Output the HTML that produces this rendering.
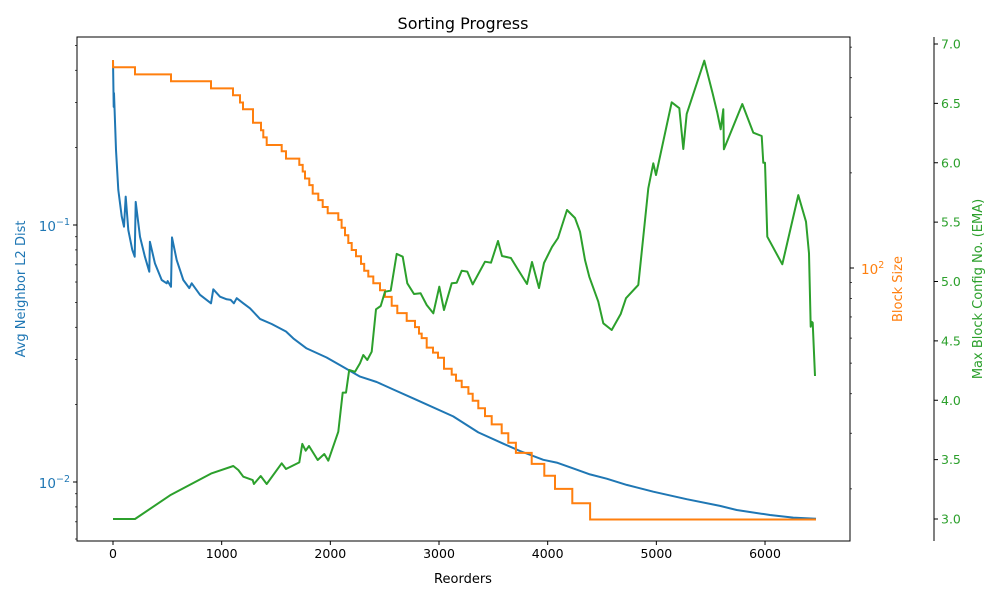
<!DOCTYPE html>
<html><head><meta charset="utf-8"><style>
body{margin:0;background:#fff}
svg{display:block;font-family:"DejaVu Sans","Liberation Sans",sans-serif}
</style></head><body>
<svg id="chart" width="1000" height="600" viewBox="0 0 1000 600" xmlns="http://www.w3.org/2000/svg">
<rect width="1000" height="600" fill="#fff"/>
<g id="g"></g>
</svg>
<script>
// Blue series: Avg Neighbor L2 Dist
const blueX=[0,6,9,28,49,80,101,117,141,178,200,209,248,294,334,340,386,448,494,503,534,543,586,647,702,724,801,902,923,985,1046,1083,1113,1138,1199,1261,1353,1460,1592,1659,1782,1966,2089,2273,2427,2579,2779,3131,3362,3592,3745,3960,4083,4236,4389,4543,4727,4972,5279,5586,5739,6046,6260,6469];
const blueY=[0.438,0.288,0.326,0.196,0.137,0.108,0.0985,0.129,0.0956,0.080,0.0753,0.123,0.090,0.0753,0.0658,0.0861,0.071,0.0611,0.0593,0.0605,0.0575,0.0895,0.073,0.0611,0.0568,0.0593,0.0535,0.0496,0.0562,0.0526,0.0514,0.0511,0.0496,0.0519,0.0496,0.0474,0.0431,0.0412,0.0385,0.0362,0.0331,0.0305,0.0285,0.0257,0.0245,0.0229,0.0210,0.0180,0.0156,0.0141,0.0132,0.0122,0.0119,0.0113,0.0107,0.0103,0.00974,0.00917,0.00857,0.00807,0.00778,0.00744,0.00727,0.00720];
// Orange series: Block Size (step, each level lasts until stepEnd)
const stepEnd=[0,202,534,902,1104,1169,1196,1288,1362,1383,1414,1552,1592,1714,1746,1767,1806,1838,1889,1930,1976,2073,2104,2135,2165,2197,2236,2282,2312,2349,2395,2457,2503,2565,2616,2703,2779,2816,2841,2887,2945,2991,3046,3117,3156,3209,3270,3310,3362,3423,3485,3577,3638,3708,3853,3969,4067,4227,4390,6469];
const blockSize=[455,432,410,390,370,352,334,318,288,273,259,245,234,222,212,202,192,183,172,164,156,149,142,134,127,120,114,109,103,98,94,89.5,85,81,76,72,68,65,62,60,56,54,52,48,46,44,42,40,38,36,34,32,30,28,26,24,22,20,18,16];
// Green series: Max Block Config No. (EMA)
const greenX=[0,202,525,908,1107,1153,1199,1286,1297,1359,1414,1552,1592,1714,1742,1773,1804,1884,1944,1981,2073,2114,2144,2174,2227,2273,2303,2340,2381,2420,2463,2503,2555,2611,2666,2708,2770,2831,2887,2947,3003,3046,3117,3163,3209,3260,3310,3423,3478,3543,3580,3662,3718,3810,3856,3920,3966,4040,4095,4178,4251,4297,4343,4383,4466,4512,4589,4672,4721,4834,4880,4926,4972,4997,5141,5211,5248,5279,5441,5518,5561,5592,5616,5622,5791,5892,5969,5984,6000,6021,6159,6306,6377,6405,6420,6429,6439,6460];
const greenY=[3.0,3.0,3.20,3.385,3.446,3.413,3.356,3.328,3.295,3.362,3.295,3.469,3.421,3.477,3.632,3.575,3.615,3.497,3.547,3.491,3.735,4.064,4.064,4.255,4.240,4.311,4.381,4.339,4.409,4.766,4.794,4.914,4.923,5.232,5.209,4.985,4.895,4.901,4.802,4.732,4.956,4.760,4.985,4.990,5.091,5.083,4.976,5.167,5.158,5.341,5.215,5.198,5.114,4.979,5.164,4.945,5.156,5.291,5.366,5.602,5.535,5.419,5.181,5.040,4.830,4.648,4.592,4.726,4.859,4.971,5.377,5.785,5.995,5.897,6.509,6.459,6.116,6.411,6.859,6.585,6.421,6.282,6.450,6.113,6.495,6.253,6.225,6.000,6.000,5.377,5.145,5.728,5.504,5.237,4.619,4.661,4.653,4.204];
const xTicks=[0,1000,2000,3000,4000,5000,6000];
const greenTicks=[3.0,3.5,4.0,4.5,5.0,5.5,6.0,6.5,7.0];

const L=77,R=850,T=37,B=541;
const xS=v=>113+v*0.10867;
const yBlue=v=>225-(Math.log10(v)+1)*257;
const yOr=v=>268-(Math.log10(v)-2)*316;
const yGr=v=>519-(v-3)*118.75;
const BLUE="#1f77b4",OR="#ff7f0e",GR="#2ca02c";
const g=document.getElementById('g');
const NS="http://www.w3.org/2000/svg";
function mk(tag,attrs,txt,parent){const e=document.createElementNS(NS,tag);for(const k in attrs)e.setAttribute(k,attrs[k]);if(txt!==undefined)e.textContent=txt;(parent||g).appendChild(e);return e;}
function powLabel(x,y,anchor,exp,color,name){
 const t=mk('text',{x:x,y:y,'text-anchor':anchor,'font-size':13.5,fill:color});
 
 
 mk('tspan',{},'10',t);
 mk('tspan',{dy:-6,'font-size':9.5},exp,t);
}

// lines
let d=blueX.map((x,i)=>(i?'L':'M')+xS(x).toFixed(1)+','+yBlue(blueY[i]).toFixed(1)).join('');
let e=mk('path',{d:d,fill:'none',stroke:BLUE,'stroke-width':2,'stroke-linejoin':'round'});


d='M'+xS(0).toFixed(1)+','+yOr(blockSize[0]).toFixed(1);
for(let i=1;i<stepEnd.length;i++){d+='L'+xS(stepEnd[i-1]).toFixed(1)+','+yOr(blockSize[i]).toFixed(1)+'L'+xS(stepEnd[i]).toFixed(1)+','+yOr(blockSize[i]).toFixed(1);}
e=mk('path',{d:d,fill:'none',stroke:OR,'stroke-width':2});


d=greenX.map((x,i)=>(i?'L':'M')+xS(x).toFixed(1)+','+yGr(greenY[i]).toFixed(1)).join('');
e=mk('path',{d:d,fill:'none',stroke:GR,'stroke-width':2,'stroke-linejoin':'round'});



// frame
e=mk('rect',{x:L,y:T,width:R-L,height:B-T,fill:'none',stroke:'#000','stroke-width':1});


e=mk('line',{x1:934,y1:T,x2:934,y2:B,stroke:'#000','stroke-width':1});



// x ticks
xTicks.forEach(v=>{const x=xS(v);
 mk('line',{x1:x,y1:B,x2:x,y2:B+4,stroke:'#000','stroke-width':1});
 e=mk('text',{x:x,y:B+17,'text-anchor':'middle','font-size':12.5},String(v));
 
 
});
e=mk('text',{x:463,y:583,'text-anchor':'middle','font-size':13},'Reorders');


e=mk('text',{x:463,y:29,'text-anchor':'middle','font-size':16},'Sorting Progress');



// left log ticks
[[0.1,'−1'],[0.01,'−2']].forEach(([v,t])=>{const y=yBlue(v);
 mk('line',{x1:L-4,y1:y,x2:L,y2:y,stroke:'#000','stroke-width':1});
 powLabel(L-7,y+6,'end',t,BLUE,'left-tick-label');
});
[0.006,0.007,0.008,0.009,0.02,0.03,0.04,0.05,0.06,0.07,0.08,0.09,0.2,0.3,0.4,0.5].forEach(v=>{const y=yBlue(v);
 mk('line',{x1:L-2,y1:y,x2:L,y2:y,stroke:'#000','stroke-width':0.7});});
e=mk('text',{x:0,y:0,'text-anchor':'middle','font-size':13,fill:BLUE,transform:'translate(25,289) rotate(-90)'},'Avg Neighbor L2 Dist');



// orange axis ticks
{const y=yOr(100);
 mk('line',{x1:R,y1:y,x2:R+4,y2:y,stroke:'#000','stroke-width':1});
 powLabel(R+11,y+6,'start','2',OR,'block-size-tick-label');}
[20,30,40,50,60,70,80,90,200,300,400,500].forEach(v=>{const y=yOr(v);
 mk('line',{x1:R,y1:y,x2:R+2,y2:y,stroke:'#000','stroke-width':0.7});});
e=mk('text',{x:0,y:0,'text-anchor':'middle','font-size':13,fill:OR,transform:'translate(902,289) rotate(-90)'},'Block Size');



// green axis ticks
greenTicks.forEach(v=>{const y=yGr(v);
 mk('line',{x1:934,y1:y,x2:938,y2:y,stroke:'#000','stroke-width':1});
 e=mk('text',{x:941,y:y+4.5,'font-size':12.5,fill:GR},v.toFixed(1));
 
 
});
e=mk('text',{x:0,y:0,'text-anchor':'middle','font-size':13,fill:GR,transform:'translate(982,289) rotate(-90)'},'Max Block Config No. (EMA)');


</script>
</body></html>
